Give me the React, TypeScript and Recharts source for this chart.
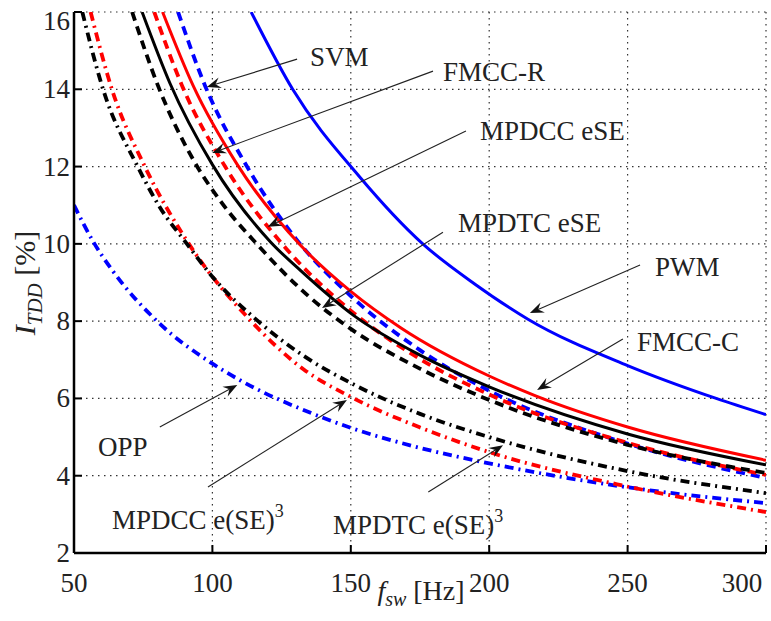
import React from "react";
import {
  LineChart,
  Line,
  XAxis,
  YAxis,
  CartesianGrid,
  ReferenceLine,
  ReferenceDot,
} from "recharts";

const FONT = '"Liberation Serif", "Times New Roman", serif';
const BLUE = "#0000ff";
const RED = "#ff0000";
const BLACK = "#000000";

const xTicks = [50, 100, 150, 200, 250, 300];
const yTicks = [2, 4, 6, 8, 10, 12, 14, 16];

// PWM - blue solid
const pwmF = [114, 129, 153, 176, 195, 214, 250, 282, 300];
const pwmI = [16, 14, 11.75, 10, 8.95, 8.05, 6.85, 6.0, 5.58];

// SVM - blue dashed
const svmF = [87.6, 97.3, 112.5, 130, 150, 175, 200, 250, 300];
const svmI = [16, 14.1, 12, 10.15, 8.65, 7.25, 6.2, 4.83, 3.94];

// OPP - blue dash-dot
const oppF = [50, 57, 64, 80, 100, 110, 135, 150, 175, 200, 250, 300];
const oppI = [11.0, 10.05, 9.3, 8, 6.9, 6.47, 5.64, 5.24, 4.72, 4.32, 3.7, 3.29];

// FMCC-C - red solid
const fmccCF = [82, 93, 109, 132, 150, 168, 200, 217, 250, 300];
const fmccCI = [16, 14.1, 12.05, 9.95, 8.77, 7.83, 6.58, 6.06, 5.26, 4.4];

// MPDCC eSE - red dashed
const mpdccF = [79, 89, 104.6, 127, 150, 175, 200, 250, 300];
const mpdccI = [16, 14.1, 12, 9.85, 8.27, 7.02, 6.1, 4.85, 4.02];

// MPDCC e(SE)^3 - red dash-dot
const mpdcc3F = [56, 63.7, 75.6, 91.5, 114, 133, 150, 175, 200, 250, 300];
const mpdcc3I = [16, 14, 12, 10, 8, 6.75, 6.04, 5.25, 4.61, 3.72, 3.06];

// FMCC-R - black solid
const fmccRF = [74.6, 84.7, 100, 121, 132, 151, 175, 200, 250, 300];
const fmccRI = [16, 14.15, 12.05, 10.05, 9.3, 8.15, 7.12, 6.3, 5.08, 4.28];

// MPDTC eSE - black dashed
const mpdtcF = [71, 80.3, 93.7, 103, 116, 135, 150, 175, 200, 250, 300];
const mpdtcI = [16, 14.1, 12.1, 11.1, 10, 8.63, 7.8, 6.77, 5.96, 4.8, 4.07];

// MPDTC e(SE)^3 - black dash-dot
const mpdtc3F = [53, 60.5, 73, 81, 90.8, 100, 116.5, 133, 150, 175, 200, 250, 300];
const mpdtc3I = [16, 14, 12, 10.95, 10, 9.15, 8, 7.1, 6.4, 5.6, 5.0, 4.12, 3.55];

const DASH = "9 6";
const DASHDOT = "9 5 2 5";

const toPoints = (f: number[], v: number[]) => f.map((x, i) => ({ f: x, v: v[i] }));

const series = [
  { name: "OPP", f: oppF, v: oppI, color: BLUE, dash: DASHDOT, w: 3.8 },
  { name: "MPDCC e(SE)^3", f: mpdcc3F, v: mpdcc3I, color: RED, dash: DASHDOT, w: 3.8 },
  { name: "MPDTC e(SE)^3", f: mpdtc3F, v: mpdtc3I, color: BLACK, dash: DASHDOT, w: 3.8 },
  { name: "SVM", f: svmF, v: svmI, color: BLUE, dash: DASH, w: 3.8 },
  { name: "MPDCC eSE", f: mpdccF, v: mpdccI, color: RED, dash: DASH, w: 3.8 },
  { name: "MPDTC eSE", f: mpdtcF, v: mpdtcI, color: BLACK, dash: DASH, w: 3.8 },
  { name: "PWM", f: pwmF, v: pwmI, color: BLUE, dash: undefined, w: 3 },
  { name: "FMCC-C", f: fmccCF, v: fmccCI, color: RED, dash: undefined, w: 3 },
  { name: "FMCC-R", f: fmccRF, v: fmccRI, color: BLACK, dash: undefined, w: 3 },
];

// text label position, then arrow from (x1,y1) to tip (x2,y2)
const annotations = [
  { text: "SVM", lx: 135.3, ly: 14.84, x1: 130.6, y1: 14.78, x2: 98, y2: 14.06 },
  { text: "FMCC-R", lx: 183.3, ly: 14.45, x1: 179.7, y1: 14.47, x2: 99.9, y2: 12.35 },
  { text: "MPDCC eSE", lx: 196.7, ly: 12.92, x1: 191.6, y1: 12.92, x2: 120, y2: 10.44 },
  { text: "MPDTC eSE", lx: 188.7, ly: 10.54, x1: 183.3, y1: 10.3, x2: 139.6, y2: 8.34 },
  { text: "PWM", lx: 259.9, ly: 9.4, x1: 254.5, y1: 9.45, x2: 214.7, y2: 8.21 },
  { text: "FMCC-C", lx: 253.4, ly: 7.46, x1: 248.3, y1: 7.54, x2: 217.3, y2: 6.22 },
  { text: "OPP", lx: 58.7, ly: 4.74, x1: 81, y1: 5.26, x2: 109, y2: 6.35 },
  { text: "MPDCC e(SE)", sup: "3", lx: 63.7, ly: 2.85, x1: 98.4, y1: 3.71, x2: 148.6, y2: 5.96 },
  { text: "MPDTC e(SE)", sup: "3", lx: 143.6, ly: 2.72, x1: 178, y1: 3.58, x2: 205, y2: 4.79 },
];

const ArrowShape = (p: any) => {
  const { x1, y1, x2, y2 } = p;
  if ([x1, y1, x2, y2].some((v) => typeof v !== "number" || isNaN(v))) return null;
  const a = Math.atan2(y2 - y1, x2 - x1);
  const ux = Math.cos(a);
  const uy = Math.sin(a);
  const nx = -uy;
  const ny = ux;
  const len = 14;
  const half = 5.5;
  const back = 9;
  const bx = x2 - ux * len;
  const by = y2 - uy * len;
  const mx = x2 - ux * back;
  const my = y2 - uy * back;
  const pts = `${x2},${y2} ${bx + nx * half},${by + ny * half} ${mx},${my} ${bx - nx * half},${by - ny * half}`;
  return (
    <g>
      <line x1={x1} y1={y1} x2={mx} y2={my} stroke="#222" strokeWidth={1.1} />
      <polygon points={pts} fill="#111" />
    </g>
  );
};

const AnnText = (p: any) => {
  const { cx, cy, text, sup } = p;
  if (typeof cx !== "number" || typeof cy !== "number") return null;
  return (
    <text x={cx} y={cy} dy={9} fontFamily={FONT} fontSize={27} fill="#222">
      {text}
      {sup ? (
        <tspan dy={-12} fontSize={18}>
          {sup}
        </tspan>
      ) : null}
    </text>
  );
};

const XTick = (props: any) => {
  const { x, y, payload } = props;
  const shift = payload.value === 300 ? -17 : 0;
  return (
    <text x={x + shift} y={y} dy={19} textAnchor="middle" fontFamily={FONT} fontSize={27} fill="#222">
      {payload.value}
    </text>
  );
};

const YTick = (props: any) => {
  const { x, y, payload } = props;
  const shift = payload.value === 16 ? 9 : 0;
  return (
    <text x={x} y={y + shift} dy={9} textAnchor="end" fontFamily={FONT} fontSize={27} fill="#222">
      {payload.value}
    </text>
  );
};

const NoTick = () => <g />;

const axisLine = { stroke: "#000", strokeWidth: 2.5 };
const tickLine = { stroke: "#000", strokeWidth: 2 };

export default function App() {
  return (
    <div style={{ position: "absolute", left: 0, top: 0, width: 771, height: 621, background: "#fff" }}>
      <LineChart width={771} height={621} margin={{ top: 12, right: 5, left: 0, bottom: 0 }}>
        <CartesianGrid stroke="#333" strokeDasharray="1.5 4.5" strokeWidth={1.2} />
        <XAxis
          type="number"
          dataKey="f"
          domain={[50, 300]}
          ticks={xTicks}
          allowDataOverflow
          height={68}
          tickSize={-8}
          tickMargin={28}
          axisLine={axisLine}
          tickLine={tickLine}
          tick={XTick}
        />
        <XAxis
          xAxisId="t"
          orientation="top"
          type="number"
          dataKey="f"
          domain={[50, 300]}
          ticks={xTicks}
          height={0}
          tickSize={-8}
          axisLine={axisLine}
          tickLine={tickLine}
          tick={NoTick}
        />
        <YAxis
          type="number"
          domain={[2, 16]}
          ticks={yTicks}
          allowDataOverflow
          width={74}
          tickSize={-8}
          tickMargin={12}
          axisLine={axisLine}
          tickLine={tickLine}
          tick={YTick}
        />
        <YAxis
          yAxisId="r"
          orientation="right"
          type="number"
          domain={[2, 16]}
          ticks={yTicks}
          width={0}
          tickSize={-8}
          axisLine={axisLine}
          tickLine={tickLine}
          tick={NoTick}
        />
        {series.map((s) => (
          <Line
            key={s.name}
            name={s.name}
            data={toPoints(s.f, s.v)}
            dataKey="v"
            type="monotone"
            stroke={s.color}
            strokeWidth={s.w}
            strokeDasharray={s.dash}
            dot={false}
            activeDot={false}
            isAnimationActive={false}
          />
        ))}
        {annotations.map((a, i) => (
          <ReferenceLine
            key={`arrow-${i}`}
            segment={[
              { x: a.x1, y: a.y1 },
              { x: a.x2, y: a.y2 },
            ]}
            ifOverflow="visible"
            shape={ArrowShape}
          />
        ))}
        {annotations.map((a, i) => (
          <ReferenceDot
            key={`label-${i}`}
            x={a.lx}
            y={a.ly}
            r={0}
            ifOverflow="visible"
            shape={(p: any) => <AnnText {...p} text={a.text} sup={a.sup} />}
          />
        ))}
      </LineChart>
      <svg
        width={771}
        height={621}
        style={{ position: "absolute", left: 0, top: 0, pointerEvents: "none" }}
      >
        <text x={421} y={600} textAnchor="middle" fontFamily={FONT} fontSize={28} fill="#222">
          <tspan fontStyle="italic">f</tspan>
          <tspan fontStyle="italic" fontSize={20} dy={6}>
            sw
          </tspan>
          <tspan dy={-6}> [Hz]</tspan>
        </text>
        <text
          transform="translate(35,283) rotate(-90)"
          textAnchor="middle"
          fontFamily={FONT}
          fontSize={30}
          fill="#222"
        >
          <tspan fontStyle="italic">I</tspan>
          <tspan fontStyle="italic" fontSize={21} dy={7}>
            TDD
          </tspan>
          <tspan dy={-7}> [%]</tspan>
        </text>
      </svg>
    </div>
  );
}
